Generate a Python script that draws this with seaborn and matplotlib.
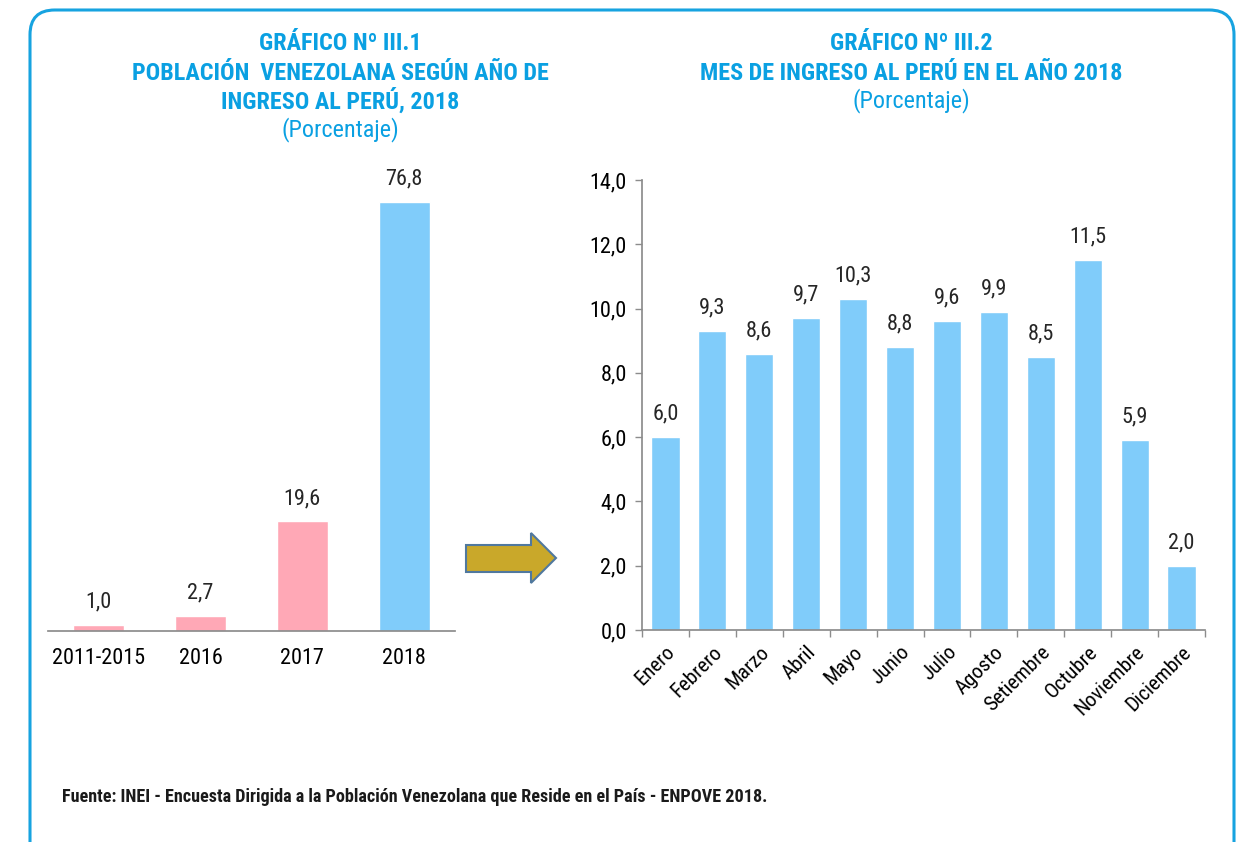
import matplotlib
matplotlib.use("Agg")
import matplotlib.pyplot as plt
import seaborn as sns
import pandas as pd
from matplotlib.patches import FancyBboxPatch, Polygon
from matplotlib.ticker import FuncFormatter, FixedLocator

# Data
anios = ['2011-2015', '2016', '2017', '2018']
anios_pct = [1.0, 2.7, 19.6, 76.8]
anios_col = ['#FFA8B6', '#FFA8B6', '#FFA8B6', '#80CCFA']

meses = ['Enero', 'Febrero', 'Marzo', 'Abril', 'Mayo', 'Junio', 'Julio',
         'Agosto', 'Setiembre', 'Octubre', 'Noviembre', 'Diciembre']
meses_pct = [6.0, 9.3, 8.6, 9.7, 10.3, 8.8, 9.6, 9.9, 8.5, 11.5, 5.9, 2.0]

BLUE_TXT = '#0AA0E2'
GRAY = '#8C8C8C'

sns.set_theme(style='white')
plt.rcParams['font.family'] = ['Roboto Condensed', 'Archivo Narrow', 'DejaVu Sans']

def coma(v):
    return f"{v:.1f}".replace('.', ',')

fig = plt.figure(figsize=(12.36, 8.42), dpi=100)

# outer rounded frame
frame = FancyBboxPatch((30 / 1236, -0.05), (1234 - 30) / 1236, (842 - 10) / 842 + 0.05,
                       boxstyle='round,pad=0,rounding_size=0.02', transform=fig.transFigure,
                       fill=False, edgecolor='#17A3E0', linewidth=2.2, mutation_aspect=1236 / 842)
fig.patches.append(frame)

# left chart
df1 = pd.DataFrame({'anio': anios, 'pct': anios_pct})
ax1 = fig.add_axes([48 / 1236, 211 / 842, 407 / 1236, 471 / 842])
sns.barplot(data=df1, x='anio', y='pct', hue='anio', palette=anios_col, legend=False,
            width=0.5, saturation=1, ax=ax1)
ax1.set_ylim(0, 84.3)
ax1.set_xlim(-0.5, 3.5)
for s in ['left', 'right', 'top']:
    ax1.spines[s].set_visible(False)
ax1.spines['bottom'].set_color(GRAY)
ax1.set_yticks([])
ax1.set_xlabel('')
ax1.set_ylabel('')
ax1.tick_params(axis='x', length=0, pad=12, labelsize=16, colors='black')
for i, v in enumerate(anios_pct):
    ax1.annotate(coma(v), (i, v), xytext=(0, 9), textcoords='offset points',
                 ha='center', va='bottom', fontsize=16)

# right chart
df2 = pd.DataFrame({'mes': meses, 'pct': meses_pct})
ax2 = fig.add_axes([642 / 1236, 212 / 842, 563 / 1236, 450 / 842])
sns.barplot(data=df2, x='mes', y='pct', color='#80CCFA', width=0.6, saturation=1, ax=ax2)
ax2.set_ylim(0, 14)
ax2.set_xlim(-0.5, 11.5)
ax2.set_yticks(range(0, 15, 2))
ax2.yaxis.set_major_formatter(FuncFormatter(lambda v, p: coma(v)))
for s in ['right', 'top']:
    ax2.spines[s].set_visible(False)
for s in ['left', 'bottom']:
    ax2.spines[s].set_color(GRAY)
ax2.set_xlabel('')
ax2.set_ylabel('')
ax2.tick_params(axis='y', direction='out', length=5, width=1, color=GRAY, pad=6,
                labelsize=16, colors='black', left=True)
ax2.xaxis.set_minor_locator(FixedLocator([i - 0.5 for i in range(13)]))
ax2.tick_params(axis='x', which='minor', direction='out', length=5, width=1, color=GRAY, bottom=True)
ax2.tick_params(axis='x', which='major', length=0, pad=9, labelsize=15, colors='black')
plt.setp(ax2.get_xticklabels(), rotation=45, ha='right', rotation_mode='anchor')
for i, v in enumerate(meses_pct):
    ax2.annotate(coma(v), (i, v), xytext=(0, 9), textcoords='offset points',
                 ha='center', va='bottom', fontsize=16)

# titles
def titulo(x, lines):
    ys = [44, 73, 101, 130]
    for k, t in enumerate(lines):
        bold = k < len(lines) - 1
        fig.text(x / 1236, 1 - ys[k] / 842, t, ha='center', va='center', color=BLUE_TXT,
                 fontsize=17.4, fontweight='bold' if bold else 'normal')

titulo(340, ['GRÁFICO Nº III.1', 'POBLACIÓN  VENEZOLANA SEGÚN AÑO DE',
             'INGRESO AL PERÚ, 2018', '(Porcentaje)'])
titulo(911, ['GRÁFICO Nº III.2', 'MES DE INGRESO AL PERÚ EN EL AÑO 2018', '(Porcentaje)'])

# arrow between charts
pts = [(466, 545), (531, 545), (531, 533), (556, 558), (531, 583), (531, 572), (466, 572)]
arrow = Polygon([(x / 1236, 1 - y / 842) for x, y in pts], closed=True, transform=fig.transFigure,
                facecolor='#C9A82A', edgecolor='#50789E', linewidth=1.5)
fig.patches.append(arrow)

fig.text(62 / 1236, 1 - 797 / 842,
         'Fuente: INEI - Encuesta Dirigida a la Población Venezolana que Reside en el País - ENPOVE 2018.',
         ha='left', va='center', fontsize=13.1, fontweight='bold', color='#1A1A1A')

fig.savefig('out.png', dpi=100)
